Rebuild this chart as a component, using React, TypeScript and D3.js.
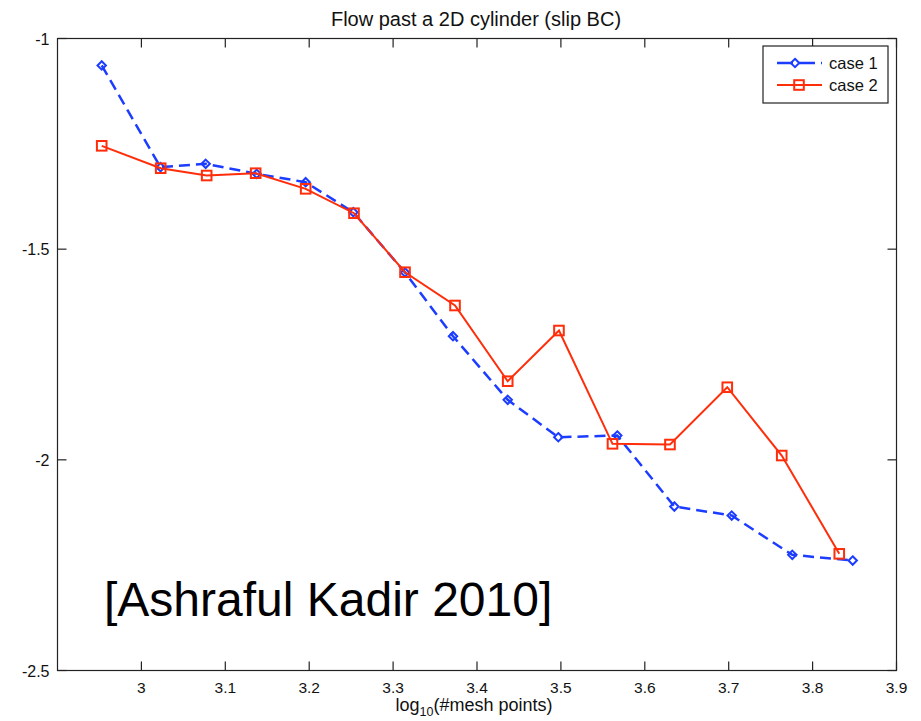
import React from "react";
import * as d3 from "d3";

const case1X = [2.9527, 3.0228, 3.0766, 3.1374, 3.1958, 3.2526, 3.3142, 3.3714, 3.4366, 3.4969, 3.5672, 3.6352, 3.7036, 3.7758, 3.8478];
const case1Y = [-1.064, -1.3055, -1.2974, -1.3212, -1.3411, -1.4123, -1.5554, -1.7066, -1.8576, -1.9464, -1.9423, -2.1108, -2.1322, -2.2255, -2.239];
const case2X = [2.9527, 3.023, 3.0778, 3.1362, 3.1958, 3.2534, 3.3142, 3.3738, 3.4366, 3.4977, 3.5615, 3.63, 3.6983, 3.7632, 3.8318];
const case2Y = [-1.2547, -1.3079, -1.3252, -1.3197, -1.3568, -1.4147, -1.5547, -1.6337, -1.8134, -1.6931, -1.962, -1.9637, -1.8277, -1.9898, -2.2231];
const xTicks = [3, 3.1, 3.2, 3.3, 3.4, 3.5, 3.6, 3.7, 3.8, 3.9];
const yTicks = [-1, -1.5, -2, -2.5];
const seriesNames = ["case 1", "case 2"];
const title = "Flow past a 2D cylinder (slip BC)";
const annotation = "[Ashraful Kadir 2010]";

const BLUE = "#1c3cff";
const RED = "#ff2d0a";

export default function App() {
  const W = 921, H = 721;
  const left = 57.5, right = 896.5, top = 38.5, bottom = 670.5;
  const x = d3.scaleLinear().domain([2.9, 3.9]).range([left, right]);
  const y = d3.scaleLinear().domain([-1, -2.5]).range([top, bottom]);
  const line = d3.line<[number, number]>().x(d => x(d[0])).y(d => y(d[1]));
  const d1 = case1X.map((v, i) => [v, case1Y[i]] as [number, number]);
  const d2 = case2X.map((v, i) => [v, case2Y[i]] as [number, number]);
  const font = "'Liberation Sans', Arial, sans-serif";
  const tl = 9;
  const diamond = (cx: number, cy: number, k: number) => (
    <path key={k} d={`M${cx},${cy - 4.2} L${cx + 4.2},${cy} L${cx},${cy + 4.2} L${cx - 4.2},${cy} Z`} fill="none" stroke={BLUE} strokeWidth={2} />
  );
  const square = (cx: number, cy: number, k: number) => (
    <rect key={k} x={cx - 4.8} y={cy - 4.8} width={9.6} height={9.6} fill="none" stroke={RED} strokeWidth={2} />
  );
  return (
    <svg width={W} height={H} style={{ position: "absolute", left: 0, top: 0, background: "#fff" }} fontFamily={font}>
      <rect x={0} y={0} width={W} height={H} fill="#fff" />
      <text x={476} y={26} textAnchor="middle" fontSize={20} fill="#111">{title}</text>
      {/* axes box */}
      <rect x={left} y={top} width={right - left} height={bottom - top} fill="none" stroke="#222" strokeWidth={1.2} />
      {xTicks.map(t => (
        <g key={"xt" + t}>
          <line x1={x(t)} x2={x(t)} y1={bottom} y2={bottom - tl} stroke="#222" strokeWidth={1.2} />
          <line x1={x(t)} x2={x(t)} y1={top} y2={top + tl} stroke="#222" strokeWidth={1.2} />
          <text x={x(t)} y={693} textAnchor="middle" fontSize={15.5} fill="#111">{t}</text>
        </g>
      ))}
      {yTicks.map(t => (
        <g key={"yt" + t}>
          <line x1={left} x2={left + tl} y1={y(t)} y2={y(t)} stroke="#222" strokeWidth={1.2} />
          <line x1={right} x2={right - tl} y1={y(t)} y2={y(t)} stroke="#222" strokeWidth={1.2} />
          <text x={left - 8} y={y(t) + 6} textAnchor="end" fontSize={16} fill="#111">{t}</text>
        </g>
      ))}
      <text x={474} y={711} textAnchor="middle" fontSize={18} fill="#111">
        log<tspan fontSize={12.5} dy={5}>10</tspan><tspan dy={-5}>(#mesh points)</tspan>
      </text>
      {/* series */}
      <path d={line(d1) || ""} fill="none" stroke={BLUE} strokeWidth={2.5} strokeDasharray="11,6" />
      {d1.map((p, i) => diamond(x(p[0]), y(p[1]), i))}
      <path d={line(d2) || ""} fill="none" stroke={RED} strokeWidth={2} />
      {d2.map((p, i) => square(x(p[0]), y(p[1]), i))}
      {/* legend */}
      <rect x={763} y={46} width={125} height={57} fill="#fff" stroke="#222" strokeWidth={1.2} />
      <line x1={777} x2={822} y1={63} y2={63} stroke={BLUE} strokeWidth={2.5} strokeDasharray="16,6" />
      {diamond(795, 63, 100)}
      <text x={829} y={69} fontSize={16.5} fill="#111">{seriesNames[0]}</text>
      <line x1={777} x2={822} y1={85} y2={85} stroke={RED} strokeWidth={2} />
      {square(799, 85, 101)}
      <text x={829} y={91} fontSize={16.5} fill="#111">{seriesNames[1]}</text>
      {/* annotation */}
      <text x={104} y={616} fontSize={48} fill="#000">{annotation}</text>
    </svg>
  );
}
